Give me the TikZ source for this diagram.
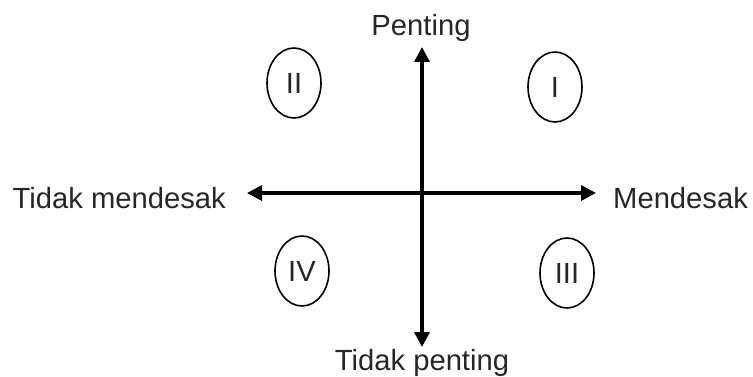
\documentclass[tikz,border=0pt]{standalone}
\usepackage{fontspec}
\setmainfont{Liberation Sans}
\usetikzlibrary{shapes.geometric,arrows.meta}
\begin{document}
\begin{tikzpicture}[x=1pt,y=-1pt,
  lbl/.style={font=\fontsize{29.2}{34}\selectfont, text=black!85, inner sep=0pt},
  quad/.style={draw, line width=1.6pt, ellipse, minimum width=54pt, minimum height=70pt, inner sep=0pt, font=\fontsize{29.2}{34}\selectfont, text=black!85},
  axis/.style={line width=3.5pt, {Triangle[length=15pt,width=15pt]}-{Triangle[length=15pt,width=15pt]}}]
\useasboundingbox (0,0) rectangle (753,377);
\coordinate (top) at (422,47);
\coordinate (bottom) at (422,347);
\coordinate (left) at (247,193);
\coordinate (right) at (596,193);
\draw[axis] (bottom) -- (top);
\draw[axis] (left) -- (right);
\node[lbl, anchor=base] (penting) at (421,36) {Penting};
\node[lbl, anchor=base] (tpenting) at (422,370.5) {Tidak penting};
\node[lbl, anchor=base east] (tmendesak) at (226,208) {Tidak mendesak};
\node[lbl, anchor=base west] (mendesak) at (613,208) {Mendesak};
\node[quad] (q2) at (294,83) {II};
\node[quad] (q1) at (555,87) {I};
\node[quad] (q4) at (302,271) {IV};
\node[quad] (q3) at (567,273) {III};
\end{tikzpicture}
\end{document}
